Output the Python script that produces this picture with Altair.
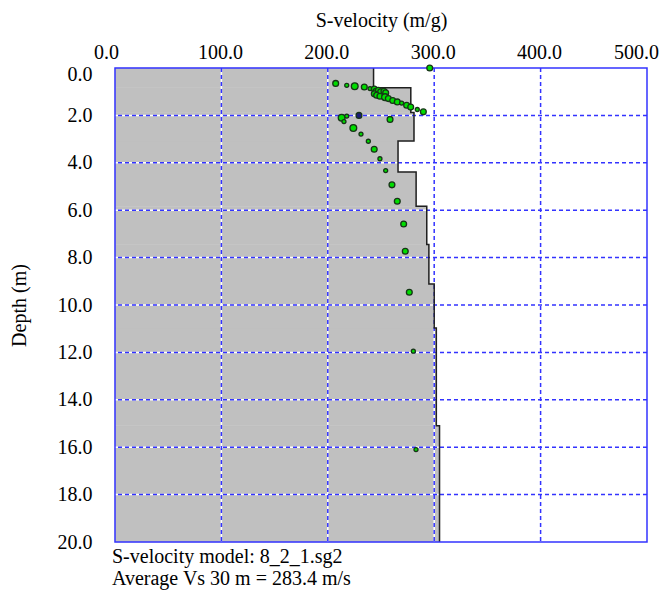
import altair as alt
import pandas as pd

# ---- data ----
layer_top = [0.0, 0.83, 1.88, 3.08, 4.39, 5.83, 7.45, 9.11, 10.97, 15.1]
layer_bottom = [0.83, 1.88, 3.08, 4.39, 5.83, 7.45, 9.11, 10.97, 15.1, 20.0]
layer_vs = [243, 278, 281, 266, 283, 293, 295, 300, 302, 305]

obs_vs = [295.8, 207.4, 217.8, 225.3, 234.3, 239.7, 243.7,
          245.3, 247.5, 249.7, 252.8, 254.4, 243.7, 245.9, 249.0, 253.8,
          256.9, 261.0, 265.3, 269.4, 274.1, 277.9, 284.1, 289.8,
          213.0, 215.2, 217.8, 229.3, 258.5, 224.0, 231.2, 238.1, 243.6,
          249.0, 254.4, 260.3, 265.3, 271.3, 272.8, 276.6, 280.4, 282.9]
obs_depth = [0.0, 0.65, 0.73, 0.77, 0.80, 0.87, 0.89,
             0.98, 0.94, 1.00, 0.98, 1.05, 1.09, 1.15, 1.19, 1.23,
             1.29, 1.37, 1.43, 1.48, 1.57, 1.65, 1.75, 1.85,
             2.10, 2.26, 2.03, 2.00, 2.17, 2.53, 2.79, 3.09, 3.43,
             3.83, 4.33, 4.93, 5.62, 6.58, 7.73, 9.46, 11.95, 16.10]
obs_size = [34, 34, 16, 46, 34, 16, 34,
            34, 34, 34, 34, 34, 34, 34, 34, 46,
            34, 34, 34, 16, 34, 34, 16, 34,
            46, 16, 16, 34, 34, 46, 16, 16, 34,
            16, 16, 34, 34, 34, 34, 34, 16, 16]
obs_fill = ["#00dd00"] * len(obs_vs)
obs_fill[27] = "#1a1a7a"

x_ticks = [0, 100, 200, 300, 400, 500]
y_ticks = [0, 2, 4, 6, 8, 10, 12, 14, 16, 18, 20]
x_grid = [100, 200, 300, 400]
y_grid = [2, 4, 6, 8, 10, 12, 14, 16, 18]

x_title = "S-velocity (m/g)"
y_title = "Depth (m)"
footer = ["S-velocity model: 8_2_1.sg2", "Average Vs 30 m = 283.4 m/s"]

# ---- tables ----
layers_df = pd.DataFrame({"top": layer_top, "bottom": layer_bottom,
                          "vs": layer_vs, "zero": [0] * len(layer_vs)})
step_rows = []
for i, (t, b, v) in enumerate(zip(layer_top, layer_bottom, layer_vs)):
    step_rows.append({"vs": v, "depth": t, "seq": 2 * i})
    step_rows.append({"vs": v, "depth": b, "seq": 2 * i + 1})
step_df = pd.DataFrame(step_rows)
obs_df = pd.DataFrame({"vs": obs_vs, "depth": obs_depth,
                       "size": obs_size, "fill": obs_fill})
xgrid_df = pd.DataFrame({"v": x_grid})
ygrid_df = pd.DataFrame({"d": y_grid})
border_df = pd.DataFrame({"x0": [x_ticks[0]], "x1": [x_ticks[-1]],
                          "y0": [y_ticks[0]], "y1": [y_ticks[-1]]})

FONT = "Liberation Serif, Times New Roman, serif"
BLUE = "#3333ff"

xs = alt.Scale(domain=[0, 500], nice=False, zero=False)
ys = alt.Scale(domain=[0, 20], reverse=True, nice=False, zero=False)

xaxis = alt.Axis(
    orient="top", values=x_ticks, format=".1f", ticks=False, domain=False,
    grid=False, labelFlush=False, labelFont=FONT, labelFontSize=20,
    labelColor="black", labelPadding=6,
    labelOffset={"condition": [{"test": "datum.value == 0", "value": -9},
                               {"test": "datum.value == 500", "value": -11}],
                 "value": -1.5},
    title=x_title, titleFont=FONT, titleFontSize=20, titleFontWeight="normal",
    titleColor="black", titlePadding=12,
)
yaxis = alt.Axis(
    orient="left", values=y_ticks, format=".1f", ticks=False, domain=False,
    grid=False, labelFlush=False, labelFont=FONT, labelFontSize=20,
    labelColor="black", labelPadding=23,
    labelOffset={"condition": {"test": "datum.value == 0", "value": 6},
                 "value": 0},
    title=y_title, titleFont=FONT, titleFontSize=20, titleFontWeight="normal",
    titleColor="black", titlePadding=28,
)


def X(f):
    return alt.X(f, type="quantitative", scale=xs, axis=xaxis)


def Y(f):
    return alt.Y(f, type="quantitative", scale=ys, axis=yaxis)


fill = alt.Chart(layers_df).mark_rect(
    color="#c0c0c0", stroke="#c0c0c0", strokeWidth=0.5
).encode(x=X("vs"), x2=alt.X2("zero"), y=Y("top"), y2=alt.Y2("bottom"))

gx_w = alt.Chart(xgrid_df).mark_rule(color="white", strokeWidth=1.5).encode(x=X("v"))
gy_w = alt.Chart(ygrid_df).mark_rule(color="white", strokeWidth=1.5).encode(y=Y("d"))
gx_b = alt.Chart(xgrid_df).mark_rule(color=BLUE, strokeWidth=1.5,
                                     strokeDash=[4, 3]).encode(x=X("v"))
gy_b = alt.Chart(ygrid_df).mark_rule(color=BLUE, strokeWidth=1.5,
                                     strokeDash=[4, 3]).encode(y=Y("d"))

step = alt.Chart(step_df).mark_line(color="#202020", strokeWidth=1.5).encode(
    x=X("vs"), y=Y("depth"), order=alt.Order("seq:Q")
)

points = alt.Chart(obs_df).mark_circle(
    stroke="#173417", strokeWidth=1.3, opacity=1
).encode(
    x=X("vs"), y=Y("depth"),
    size=alt.Size("size:Q", scale=None, legend=None),
    fill=alt.Fill("fill:N", scale=None, legend=None),
)

border = alt.Chart(border_df).mark_rect(
    fillOpacity=0, stroke=BLUE, strokeWidth=1.5
).encode(x=X("x0"), x2=alt.X2("x1"), y=Y("y0"), y2=alt.Y2("y1"))

chart = alt.layer(fill, gx_w, gy_w, gx_b, gy_b, step, border, points).properties(
    width=532, height=474,
    padding={"left": 107, "top": 60, "right": 13, "bottom": 48},
    autosize=alt.AutoSizeParams(type="none"),
    title=alt.TitleParams(
        text=footer, orient="bottom", anchor="start", frame="group",
        font=FONT, fontSize=20, fontWeight="normal", color="black",
        offset=-5, lineHeight=22, baseline="top", dx=-3,
    ),
).configure_view(stroke=None)

chart.save("out.html", embed_options={"renderer": "svg", "actions": False})
